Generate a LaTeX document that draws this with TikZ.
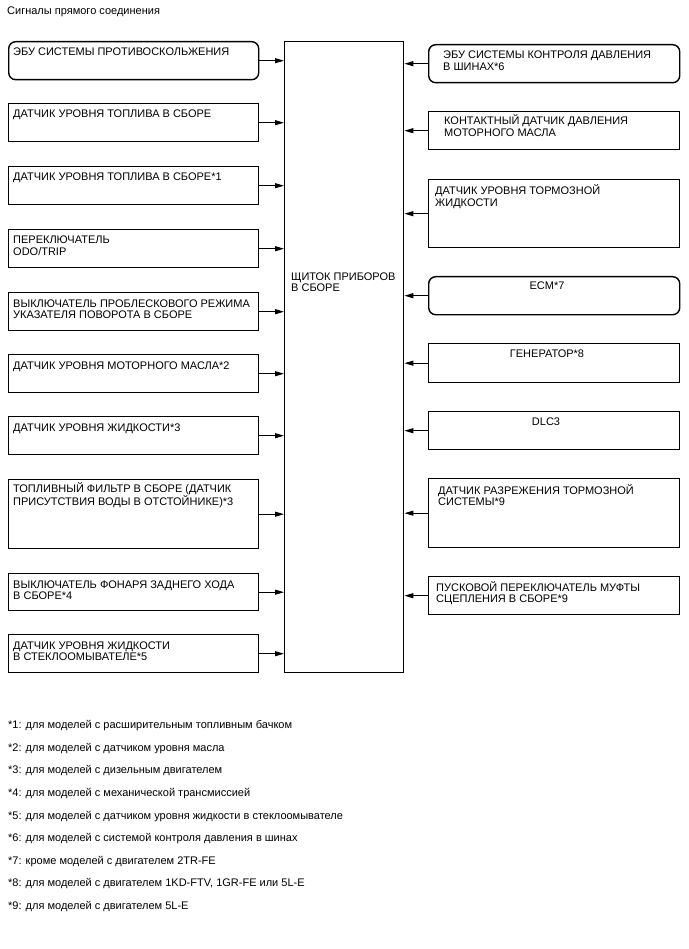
\documentclass[tikz,border=0pt]{standalone}
\usepackage{fontspec}
\setmainfont{Liberation Sans}
\usetikzlibrary{arrows.meta}
\begin{document}
\begin{tikzpicture}[x=1pt,y=-1pt,
  every node/.style={font=\fontsize{11}{11.5}\selectfont},
  box/.style={draw, line width=1.4pt, minimum width=250pt, anchor=north west, inner sep=0pt},
  rbox/.style={box, rounded corners=7pt},
  centerbox/.style={draw, line width=1.4pt, minimum width=119pt, minimum height=631pt, anchor=north west, inner sep=0pt},
  txt/.style={anchor=base west, inner sep=0pt, align=left},
  ctxt/.style={anchor=base, inner sep=0pt, align=center},
  conn/.style={line width=1pt, -{Triangle[length=9pt,width=5pt]}}
]
\useasboundingbox (0,0) rectangle (688,949);

\node[anchor=base west, inner sep=0pt] (title) at (7,15) {Сигналы прямого соединения};

% central box
\node[centerbox] (C) at (284,41) {};
\node[txt] (Ct) at (291,291.5) {ЩИТОК ПРИБОРОВ\\В СБОРЕ};

% left boxes
\node[rbox, minimum height=38pt] (L1) at (8,41) {};
\node[txt] (L1t) at (13,56) {ЭБУ СИСТЕМЫ ПРОТИВОСКОЛЬЖЕНИЯ};
\node[box, minimum height=38pt] (L2) at (8,103) {};
\node[txt] (L2t) at (13,118) {ДАТЧИК УРОВНЯ ТОПЛИВА В СБОРЕ};
\node[box, minimum height=38pt] (L3) at (8,166) {};
\node[txt] (L3t) at (13,181) {ДАТЧИК УРОВНЯ ТОПЛИВА В СБОРЕ*1};
\node[box, minimum height=38pt] (L4) at (8,229) {};
\node[txt] (L4t) at (13,255.5) {ПЕРЕКЛЮЧАТЕЛЬ\\ODO/TRIP};
\node[box, minimum height=38pt] (L5) at (8,292) {};
\node[txt] (L5t) at (13,318.5) {ВЫКЛЮЧАТЕЛЬ ПРОБЛЕСКОВОГО РЕЖИМА\\УКАЗАТЕЛЯ ПОВОРОТА В СБОРЕ};
\node[box, minimum height=38pt] (L6) at (8,354) {};
\node[txt] (L6t) at (13,369) {ДАТЧИК УРОВНЯ МОТОРНОГО МАСЛА*2};
\node[box, minimum height=38pt] (L7) at (8,416) {};
\node[txt] (L7t) at (13,431) {ДАТЧИК УРОВНЯ ЖИДКОСТИ*3};
\node[box, minimum height=69pt] (L8) at (8,479) {};
\node[txt] (L8t) at (13,505.5) {ТОПЛИВНЫЙ ФИЛЬТР В СБОРЕ (ДАТЧИК\\ПРИСУТСТВИЯ ВОДЫ В ОТСТОЙНИКЕ)*3};
\node[box, minimum height=37pt] (L9) at (8,573) {};
\node[txt] (L9t) at (13,599.5) {ВЫКЛЮЧАТЕЛЬ ФОНАРЯ ЗАДНЕГО ХОДА\\В СБОРЕ*4};
\node[box, minimum height=38pt] (L10) at (8,634) {};
\node[txt] (L10t) at (13,660.5) {ДАТЧИК УРОВНЯ ЖИДКОСТИ\\В СТЕКЛООМЫВАТЕЛЕ*5};

% right boxes
\node[rbox, minimum width=251pt, minimum height=38pt] (R1) at (428,44) {};
\node[txt] (R1t) at (443,70.5) {ЭБУ СИСТЕМЫ КОНТРОЛЯ ДАВЛЕНИЯ\\В ШИНАХ*6};
\node[box, minimum width=251pt, minimum height=38pt] (R2) at (428,111) {};
\node[txt] (R2t) at (444,136.5) {КОНТАКТНЫЙ ДАТЧИК ДАВЛЕНИЯ\\МОТОРНОГО МАСЛА};
\node[box, minimum width=251pt, minimum height=68pt] (R3) at (428,179) {};
\node[txt] (R3t) at (435,206.5) {ДАТЧИК УРОВНЯ ТОРМОЗНОЙ\\ЖИДКОСТИ};
\node[rbox, minimum width=251pt, minimum height=38pt] (R4) at (428,276) {};
\node[ctxt] (R4t) at (547,290) {ECM*7};
\node[box, minimum width=251pt, minimum height=39pt] (R5) at (428,343) {};
\node[ctxt] (R5t) at (547,357) {ГЕНЕРАТОР*8};
\node[box, minimum width=251pt, minimum height=38pt] (R6) at (428,411) {};
\node[ctxt] (R6t) at (546,425) {DLC3};
\node[box, minimum width=251pt, minimum height=69pt] (R7) at (428,478) {};
\node[txt] (R7t) at (438,505.5) {ДАТЧИК РАЗРЕЖЕНИЯ ТОРМОЗНОЙ\\СИСТЕМЫ*9};
\node[box, minimum width=251pt, minimum height=38pt] (R8) at (428,576) {};
\node[txt] (R8t) at (436,602.5) {ПУСКОВОЙ ПЕРЕКЛЮЧАТЕЛЬ МУФТЫ\\СЦЕПЛЕНИЯ В СБОРЕ*9};

% connectors
\foreach \n in {L1,L2,L3,L4,L5,L6,L7,L8,L9,L10}
  \draw[conn] (\n.east) -- (\n.east -| C.west);
\foreach \n in {R1,R2,R3,R4,R5,R6,R7,R8}
  \draw[conn] (\n.west) -- (\n.west -| C.east);

% footnotes
\node[anchor=base west, inner sep=0pt] (f1) at (8,728) {*1: для моделей с расширительным топливным бачком};
\node[anchor=base west, inner sep=0pt] (f2) at (8,751) {*2: для моделей с датчиком уровня масла};
\node[anchor=base west, inner sep=0pt] (f3) at (8,773) {*3: для моделей с дизельным двигателем};
\node[anchor=base west, inner sep=0pt] (f4) at (8,796) {*4: для моделей с механической трансмиссией};
\node[anchor=base west, inner sep=0pt] (f5) at (8,819) {*5: для моделей с датчиком уровня жидкости в стеклоомывателе};
\node[anchor=base west, inner sep=0pt] (f6) at (8,841) {*6: для моделей с системой контроля давления в шинах};
\node[anchor=base west, inner sep=0pt] (f7) at (8,864) {*7: кроме моделей с двигателем 2TR-FE};
\node[anchor=base west, inner sep=0pt] (f8) at (8,886) {*8: для моделей с двигателем 1KD-FTV, 1GR-FE или 5L-E};
\node[anchor=base west, inner sep=0pt] (f9) at (8,909) {*9: для моделей с двигателем 5L-E};
\end{tikzpicture}
\end{document}
